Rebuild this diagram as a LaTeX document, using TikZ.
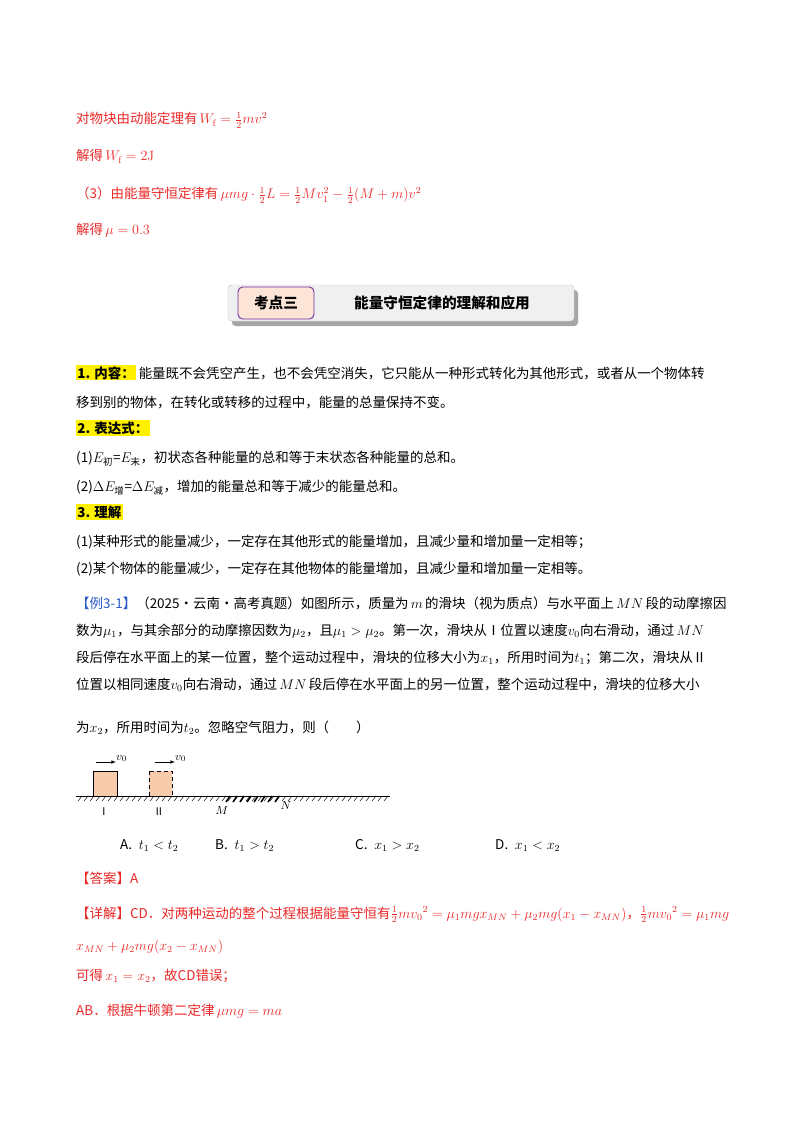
\documentclass[tikz,border=0pt]{standalone}
\usepackage{fontspec}
\usepackage{amsmath}
\newfontfamily\cjk{Noto Sans CJK SC}
\usetikzlibrary{patterns}
\definecolor{ansred}{RGB}{235,40,40}
\definecolor{exblue}{RGB}{40,90,200}
\definecolor{hlyel}{RGB}{255,240,0}
\definecolor{boxpink}{RGB}{252,228,214}
\definecolor{boxpurple}{RGB}{112,48,160}
\definecolor{blockfill}{RGB}{248,203,173}
\tikzset{
  txt/.style={anchor=base west, inner sep=0pt, font=\cjk\fontsize{11.5}{14}\selectfont},
  redtxt/.style={txt, text=ansred},
  hl/.style={txt, fill=hlyel, inner sep=1pt, font=\cjk\bfseries\fontsize{11.5}{14}\selectfont},
  block/.style={draw, fill=blockfill, thin},
  lbl/.style={font=\fontsize{10}{12}\selectfont, inner sep=1pt}
}
\begin{document}
\begin{tikzpicture}[x=0.03cm,y=-0.03cm]
\useasboundingbox[fill=white] (0,0) rectangle (800,1132);
% worked solution
\node[redtxt] (s1) at (76,124) {对物块由动能定理有\,$W_{\mathrm f}=\tfrac12 mv^2$};
\node[redtxt] (s2) at (76,161) {解得\,$W_{\mathrm f}=2\mathrm{J}$};
\node[redtxt] (s3) at (76,199) {（3）由能量守恒定律有\,$\mu mg\cdot\tfrac12L=\tfrac12Mv_1^2-\tfrac12(M+m)v^2$};
\node[redtxt] (s4) at (76,235) {解得\,$\mu=0.3$};
% section header
\fill[gray!70, rounded corners=3pt] (232,290) rectangle (578,326);
\filldraw[draw=gray!40, fill=gray!12, rounded corners=3pt] (228,285) rectangle (574,321);
\filldraw[draw=boxpurple, fill=boxpink, rounded corners=4pt, thick] (238,287) rectangle (314,319);
\node[font=\cjk\bfseries\fontsize{12.5}{14}\selectfont] (tag) at (276,303) {考点三};
\node[font=\cjk\bfseries\fontsize{12.5}{14}\selectfont] (title) at (442,303) {能量守恒定律的理解和应用};
% content
\node[hl] (h1) at (76,378) {1. 内容：};
\node[txt, anchor=base west] (p1) at (h1.base east) {\,能量既不会凭空产生，也不会凭空消失，它只能从一种形式转化为其他形式，或者从一个物体转};
\node[txt] (p2) at (76,407) {移到别的物体，在转化或转移的过程中，能量的总量保持不变。};
\node[hl] (h2) at (76,433) {2. 表达式：};
\node[txt] (p3) at (76,462) {(1)$E_{\text{初}}$=$E_{\text{末}}$，初状态各种能量的总和等于末状态各种能量的总和。};
\node[txt] (p4) at (76,491) {(2)$\Delta E_{\text{增}}$=$\Delta E_{\text{减}}$，增加的能量总和等于减少的能量总和。};
\node[hl] (h3) at (76,517) {3. 理解};
\node[txt] (p5) at (76,546) {(1)某种形式的能量减少，一定存在其他形式的能量增加，且减少量和增加量一定相等；};
\node[txt] (p6) at (76,573) {(2)某个物体的能量减少，一定存在其他物体的能量增加，且减少量和增加量一定相等。};
% example
\node[txt] (e1) at (76,608) {\textcolor{exblue}{【例3-1】}（2025·云南·高考真题）如图所示，质量为\,$m$\,的滑块（视为质点）与水平面上\,$MN$\,段的动摩擦因};
\node[txt] (e2) at (76,635) {数为$\mu_1$，与其余部分的动摩擦因数为$\mu_2$，且$\mu_1>\mu_2$。第一次，滑块从Ⅰ位置以速度$v_0$向右滑动，通过\,$MN$};
\node[txt] (e3) at (76,662) {段后停在水平面上的某一位置，整个运动过程中，滑块的位移大小为$x_1$，所用时间为$t_1$；第二次，滑块从Ⅱ};
\node[txt] (e4) at (76,689) {位置以相同速度$v_0$向右滑动，通过\,$MN$\,段后停在水平面上的另一位置，整个运动过程中，滑块的位移大小};
\node[txt] (e5) at (76,732) {为$x_2$，所用时间为$t_2$。忽略空气阻力，则（\qquad）};
% figure
\coordinate (gl) at (76,796);
\coordinate (gr) at (390,796);
\draw (gl) -- (gr);
\foreach \x in {82,88,...,388} \draw[thin] (\x,796) -- ++(-4,5);
\foreach \x in {230,237,...,284} \draw[line width=1.3pt] (\x,796) -- ++(-4,6);
\draw[block] (93,771) rectangle (117,796);
\draw[block, dashed] (149,771) rectangle (172,796);
\coordinate (a1) at (96,762);
\coordinate (a1e) at (116,762);
\coordinate (a2) at (155,762);
\coordinate (a2e) at (175,762);
\draw[-latex] (a1) -- (a1e) node[lbl, above right, inner sep=0pt] (v1) {$v_0$};
\draw[-latex] (a2) -- (a2e) node[lbl, above right, inner sep=0pt] (v2) {$v_0$};
\node[lbl, font=\cjk\fontsize{9}{11}\selectfont] (I) at (104,812) {Ⅰ};
\node[lbl, font=\cjk\fontsize{9}{11}\selectfont] (II) at (159,812) {Ⅱ};
\node[lbl] (Ml) at (222,810) {$M$};
\node[lbl] (Nl) at (286,805) {$N$};
% options
\node[txt] (oA) at (120,849) {A.\enspace$t_1<t_2$};
\node[txt] (oB) at (215,849) {B.\enspace$t_1>t_2$};
\node[txt] (oC) at (355,849) {C.\enspace$x_1>x_2$};
\node[txt] (oD) at (495,849) {D.\enspace$x_1<x_2$};
% answer
\node[redtxt] (ans) at (76,883) {【答案】A};
\node[redtxt] (d1) at (76,918) {【详解】CD．对两种运动的整个过程根据能量守恒有$\tfrac12m{v_0}^2=\mu_1mgx_{MN}+\mu_2mg(x_1-x_{MN})$，$\tfrac12m{v_0}^2=\mu_1mg$};
\node[redtxt] (d2) at (76,950) {$x_{MN}+\mu_2mg(x_2-x_{MN})$};
\node[redtxt] (d3) at (76,980) {可得\,$x_1=x_2$，故CD错误；};
\node[redtxt] (d4) at (76,1015) {AB．根据牛顿第二定律\,$\mu mg=ma$};
\end{tikzpicture}
\end{document}
